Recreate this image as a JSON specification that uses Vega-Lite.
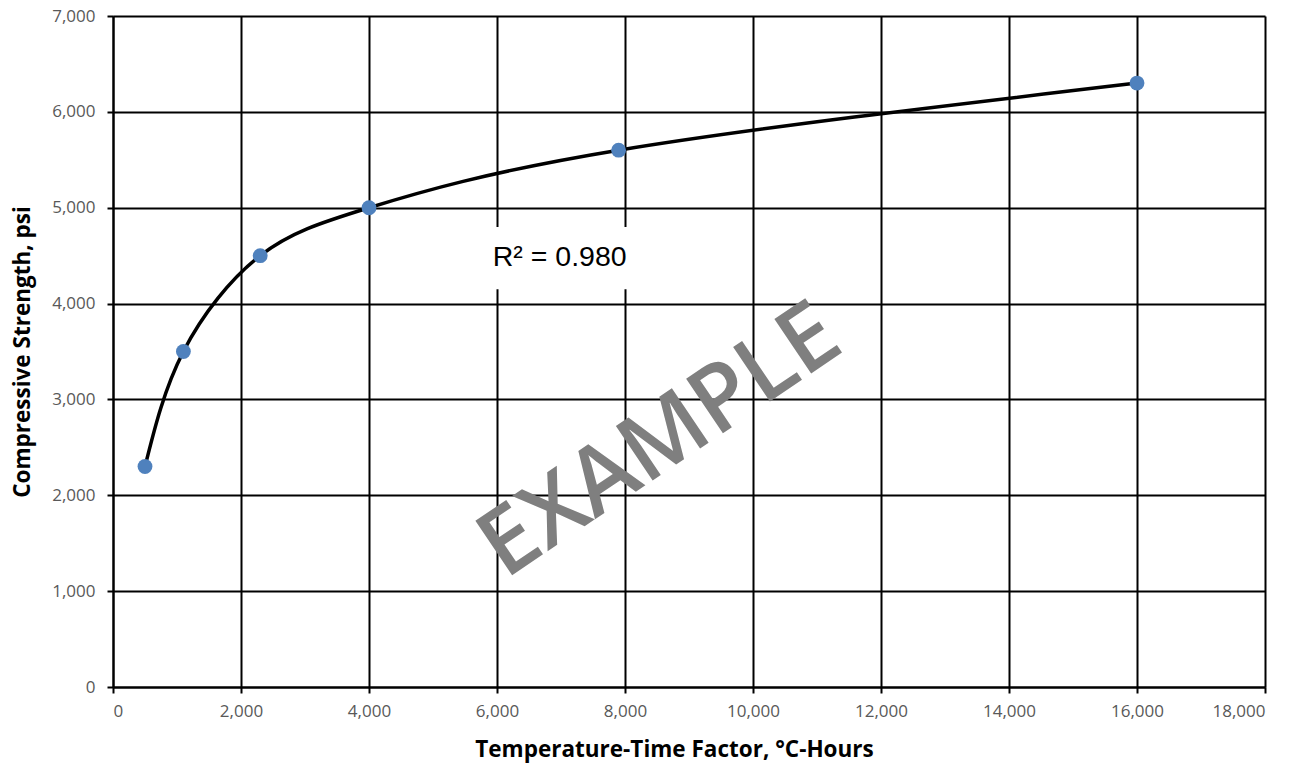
{
  "$schema": "https://vega.github.io/schema/vega-lite/v6.json",
  "width": 1152,
  "height": 671,
  "autosize": {"type": "none"},
  "padding": {"left": 113, "top": 16, "right": 46, "bottom": 84},
  "background": "white",
  "config": {
    "view": {"stroke": null},
    "axis": {
      "labelFont": "Open Sans",
      "labelFontSize": 17,
      "labelColor": "#595959",
      "titleFont": "Open Sans",
      "titleFontSize": 22.5,
      "titleFontWeight": "bold",
      "titleColor": "#000000",
      "gridColor": "#000000",
      "gridWidth": 2,
      "gridOpacity": 1,
      "domainColor": "#000000",
      "domainWidth": 2,
      "tickColor": "#000000",
      "tickWidth": 2,
      "tickSize": 6
    }
  },
  "datasets": {
    "pts": [
      {"ttf": 500, "strength": 2300},
      {"ttf": 1100, "strength": 3500},
      {"ttf": 2300, "strength": 4500},
      {"ttf": 4000, "strength": 5000},
      {"ttf": 7900, "strength": 5600},
      {"ttf": 16000, "strength": 6300}
    ],
    "box": [{"x1": 5750, "x2": 8200, "y1": 4150, "y2": 4800}],
    "labels": [
      {"lx": 6980, "ly": 4490, "txt": "R² = 0.980", "kind": "r2"}
    ],
    "wm": [{"lx": 8550, "ly": 2560, "txt": "EXAMPLE"}]
  },
  "layer": [
    {
      "data": {"name": "box"},
      "mark": {"type": "rect", "fill": "white", "stroke": null},
      "encoding": {
        "x": {"field": "x1", "type": "quantitative", "scale": {"domain": [0, 18000], "nice": false}},
        "x2": {"field": "x2"},
        "y": {"field": "y1", "type": "quantitative", "scale": {"domain": [0, 7000], "nice": false}},
        "y2": {"field": "y2"}
      }
    },
    {
      "data": {"name": "pts"},
      "mark": {"type": "line", "interpolate": "natural", "color": "#000000", "strokeWidth": 3.5},
      "encoding": {
        "x": {
          "field": "ttf", "type": "quantitative",
          "scale": {"domain": [0, 18000], "nice": false},
          "axis": {
            "title": "Temperature-Time Factor, °C-Hours",
            "values": [0, 2000, 4000, 6000, 8000, 10000, 12000, 14000, 16000, 18000],
            "format": ",d",
            "labelPadding": 10,
            "titlePadding": 19,
            "titleX": 561,
            "titleAlign": "center"
          }
        },
        "y": {
          "field": "strength", "type": "quantitative",
          "scale": {"domain": [0, 7000], "nice": false},
          "axis": {
            "title": "Compressive Strength, psi",
            "values": [0, 1000, 2000, 3000, 4000, 5000, 6000, 7000],
            "format": ",d",
            "labelPadding": 12,
            "titlePadding": 17
          }
        }
      }
    },
    {
      "data": {"name": "pts"},
      "mark": {"type": "point", "filled": true, "shape": "circle", "size": 220, "color": "#4F81BD", "opacity": 1},
      "encoding": {
        "x": {"field": "ttf", "type": "quantitative"},
        "y": {"field": "strength", "type": "quantitative"}
      }
    },
    {
      "data": {"name": "labels"},
      "mark": {"type": "text", "font": "Liberation Sans", "fontSize": 28.5, "color": "#000000", "align": "center", "baseline": "middle"},
      "encoding": {
        "x": {"field": "lx", "type": "quantitative"},
        "y": {"field": "ly", "type": "quantitative"},
        "text": {"field": "txt"}
      }
    },
    {
      "data": {"name": "wm"},
      "mark": {"type": "text", "font": "Open Sans", "fontWeight": 600, "fontSize": 92, "color": "#7F7F7F", "angle": -34, "align": "center", "baseline": "middle"},
      "encoding": {
        "x": {"field": "lx", "type": "quantitative"},
        "y": {"field": "ly", "type": "quantitative"},
        "text": {"field": "txt"}
      }
    }
  ]
}
